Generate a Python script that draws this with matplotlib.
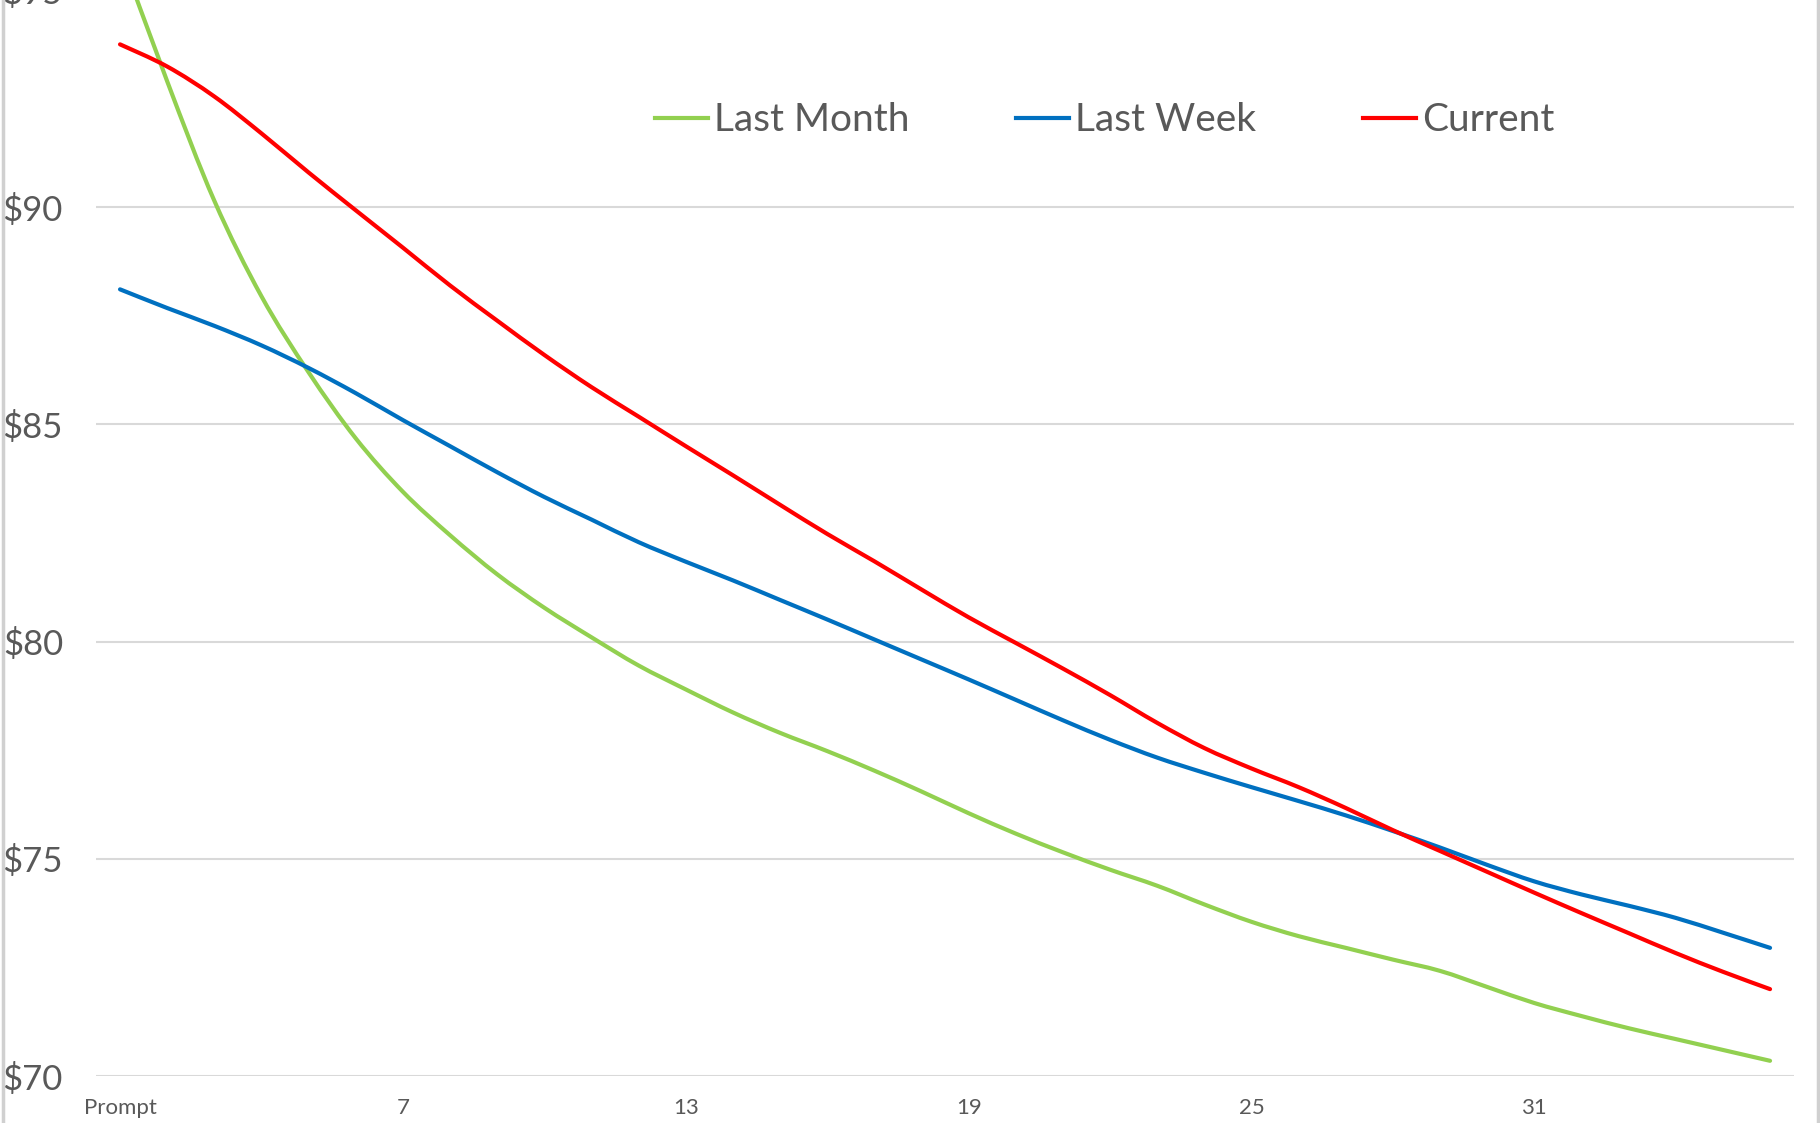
import matplotlib
matplotlib.use("Agg")
import matplotlib.pyplot as plt
from matplotlib.lines import Line2D
from matplotlib.path import Path
from matplotlib.patches import PathPatch

plt.rcParams['font.family'] = ['Lato', 'DejaVu Sans']

months = list(range(1, 37))
tick_months = [1, 7, 13, 19, 25, 31]
tick_labels = ["Prompt", "7", "13", "19", "25", "31"]
y_ticks = [70, 75, 80, 85, 90, 95]
y_tick_labels = ["$70", "$75", "$80", "$85", "$90", "$95"]

last_month = [95.85, 92.9, 90.15, 87.95, 86.2, 84.68, 83.45, 82.45, 81.55, 80.78,
              80.1, 79.45, 78.9, 78.37, 77.9, 77.48, 77.03, 76.55, 76.05, 75.58,
              75.15, 74.75, 74.38, 73.95, 73.55, 73.22, 72.95, 72.68, 72.42, 72.05,
              71.68, 71.38, 71.1, 70.85, 70.6, 70.35]
last_week = [88.11, 87.68, 87.27, 86.82, 86.30, 85.72, 85.1, 84.5, 83.9, 83.33,
             82.81, 82.29, 81.84, 81.41, 80.96, 80.51, 80.05, 79.59, 79.13, 78.66,
             78.19, 77.74, 77.33, 76.98, 76.65, 76.33, 76.0, 75.64, 75.26, 74.86,
             74.48, 74.18, 73.92, 73.64, 73.3, 72.95]
current = [93.75, 93.24, 92.55, 91.7, 90.8, 89.93, 89.07, 88.2, 87.39, 86.6,
           85.86, 85.18, 84.5, 83.83, 83.15, 82.48, 81.85, 81.2, 80.56, 79.97,
           79.38, 78.77, 78.13, 77.55, 77.08, 76.65, 76.17, 75.66, 75.18, 74.7,
           74.22, 73.75, 73.29, 72.83, 72.4, 72.0]

series = [("Last Month", last_month, "#92D050"),
          ("Last Week", last_week, "#0070C0"),
          ("Current", current, "#FF0000")]


def smooth_path(xs, ys):
    pts = list(zip(xs, ys))
    n = len(pts)
    verts = [pts[0]]
    codes = [Path.MOVETO]
    for i in range(n - 1):
        p0 = pts[i - 1] if i > 0 else pts[i]
        p1 = pts[i]
        p2 = pts[i + 1]
        p3 = pts[i + 2] if i + 2 < n else pts[i + 1]
        c1 = (p1[0] + (p2[0] - p0[0]) / 6.0, p1[1] + (p2[1] - p0[1]) / 6.0)
        c2 = (p2[0] - (p3[0] - p1[0]) / 6.0, p2[1] - (p3[1] - p1[1]) / 6.0)
        verts += [c1, c2, p2]
        codes += [Path.CURVE4] * 3
    return Path(verts, codes)


fig = plt.figure(figsize=(18.2, 11.23), dpi=100)
ax = fig.add_axes([0.053, 0.04185, 0.9325, 0.967])

handles = []
for name, vals, col in series:
    patch = PathPatch(smooth_path(months, vals), facecolor='none', edgecolor=col,
                      lw=3.0, capstyle='round', joinstyle='round', zorder=3)
    ax.add_patch(patch)
    handles.append(Line2D([], [], color=col, lw=3.0, label=name))

ax.set_xlim(0.5, 36.5)
ax.set_ylim(70, 95)
ax.set_yticks(y_ticks)
ax.set_yticklabels(y_tick_labels)
ax.set_xticks(tick_months)
ax.set_xticklabels(tick_labels)
ax.grid(axis='y', color='#D9D9D9', lw=1.5, zorder=0)
ax.grid(axis='x', visible=False)
for s in ax.spines.values():
    s.set_visible(False)
ax.tick_params(axis='y', length=0, pad=24, labelsize=25, labelcolor='#595959')
ax.tick_params(axis='x', length=0, pad=16, labelsize=16, labelcolor='#595959')

fig.legend(handles=handles, loc='center', bbox_to_anchor=(0.607, 0.893), ncol=3,
           frameon=False, fontsize=28, handlelength=1.36, handletextpad=0.15,
           columnspacing=2.75, labelcolor='#595959')

fig.add_artist(Line2D([0.0015, 0.0015], [0, 1], color='#D0D0D0', lw=2.5,
                      transform=fig.transFigure))
fig.add_artist(Line2D([0.999, 0.999], [0, 1], color='#D0D0D0', lw=2.5,
                      transform=fig.transFigure))

fig.savefig("out.png", dpi=100)
